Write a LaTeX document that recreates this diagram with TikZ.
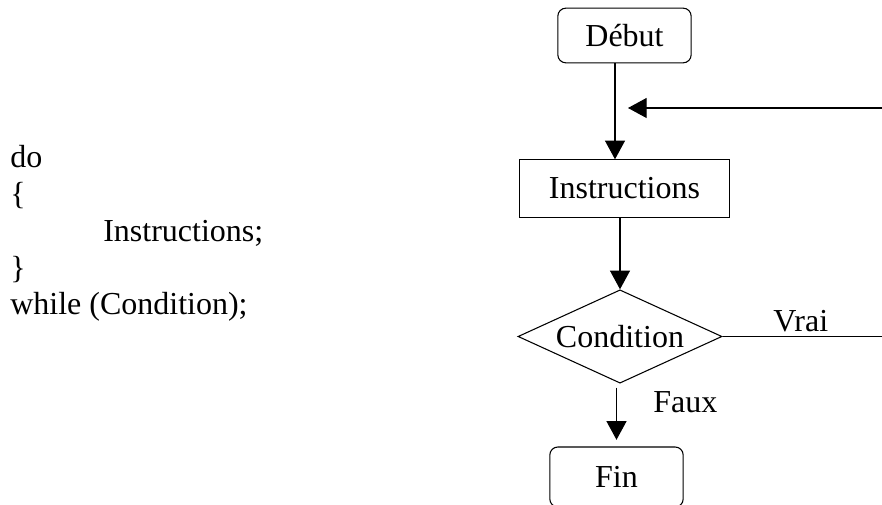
\documentclass[tikz,border=0pt]{standalone}
\usepackage{fontspec}
\setmainfont{Liberation Serif}
\usetikzlibrary{positioning}
\usetikzlibrary{shapes.geometric, arrows.meta, calc}
\tikzstyle{terminal} = [rectangle, rounded corners=6pt, minimum width=100pt, minimum height=41pt, text centered, draw=black, line width=0.8pt]
\tikzstyle{process} = [rectangle, minimum width=157pt, minimum height=43pt, text centered, draw=black, line width=0.8pt]
\tikzstyle{decision} = [diamond, aspect=2.2, inner sep=0pt, minimum width=153pt, minimum height=70pt, text centered, draw=black, line width=0.8pt]
\tikzstyle{codeline} = [inner sep=0pt, anchor=base west]
\tikzstyle{arrow} = [line width=0.8pt,-{Triangle[length=14pt,width=15pt]}]
\tikzstyle{line} = [line width=0.8pt]

\begin{document}
\begin{tikzpicture}[x=0.75pt, y=-0.75pt, every node/.style={font=\fontsize{24}{27.5}\selectfont}]

        \useasboundingbox (0,0) rectangle (882,505);
        \clip (0,0) rectangle (882,505);

        % Code on the left
        \node[codeline] (ldo) at (10,168) {do};
        \node[codeline] (lopen) at (10,205) {\{};
        \node[codeline] (linstr) at (103,242) {Instructions;};
        \node[codeline] (lclose) at (10,279) {\}};
        \node[codeline] (lwhile) at (10,315) {while (Condition);};

        % Flowchart boxes
        \node[terminal] (debut) at (624.5,35.5) {Début};
        \node[process] (instr) at (624.5,188.5) {Instructions};
        \node[decision] (cond) at (620,336.5) {Condition};
        \node[terminal, minimum height=45pt] (fin) at (616.5,477) {Fin};

        % Labels
        \node[codeline] (vrai) at (773,332) {Vrai};
        \node[codeline] (faux) at (653,413) {Faux};

        % Connections
        \coordinate (loopin) at (628,108);
        \draw[arrow] ($(debut.south)+(-9.5,0)$) coordinate (d0) -- (d0 |- instr.north);
        \draw[arrow] (instr.south -| cond.north) -- (cond.north);
        \draw[arrow, shorten <=3pt, shorten >=5pt] (cond.south -| fin.north) -- (fin.north);
        \draw[arrow] (cond.east) -- ++(170,0) |- (loopin);

\end{tikzpicture}
\end{document}
